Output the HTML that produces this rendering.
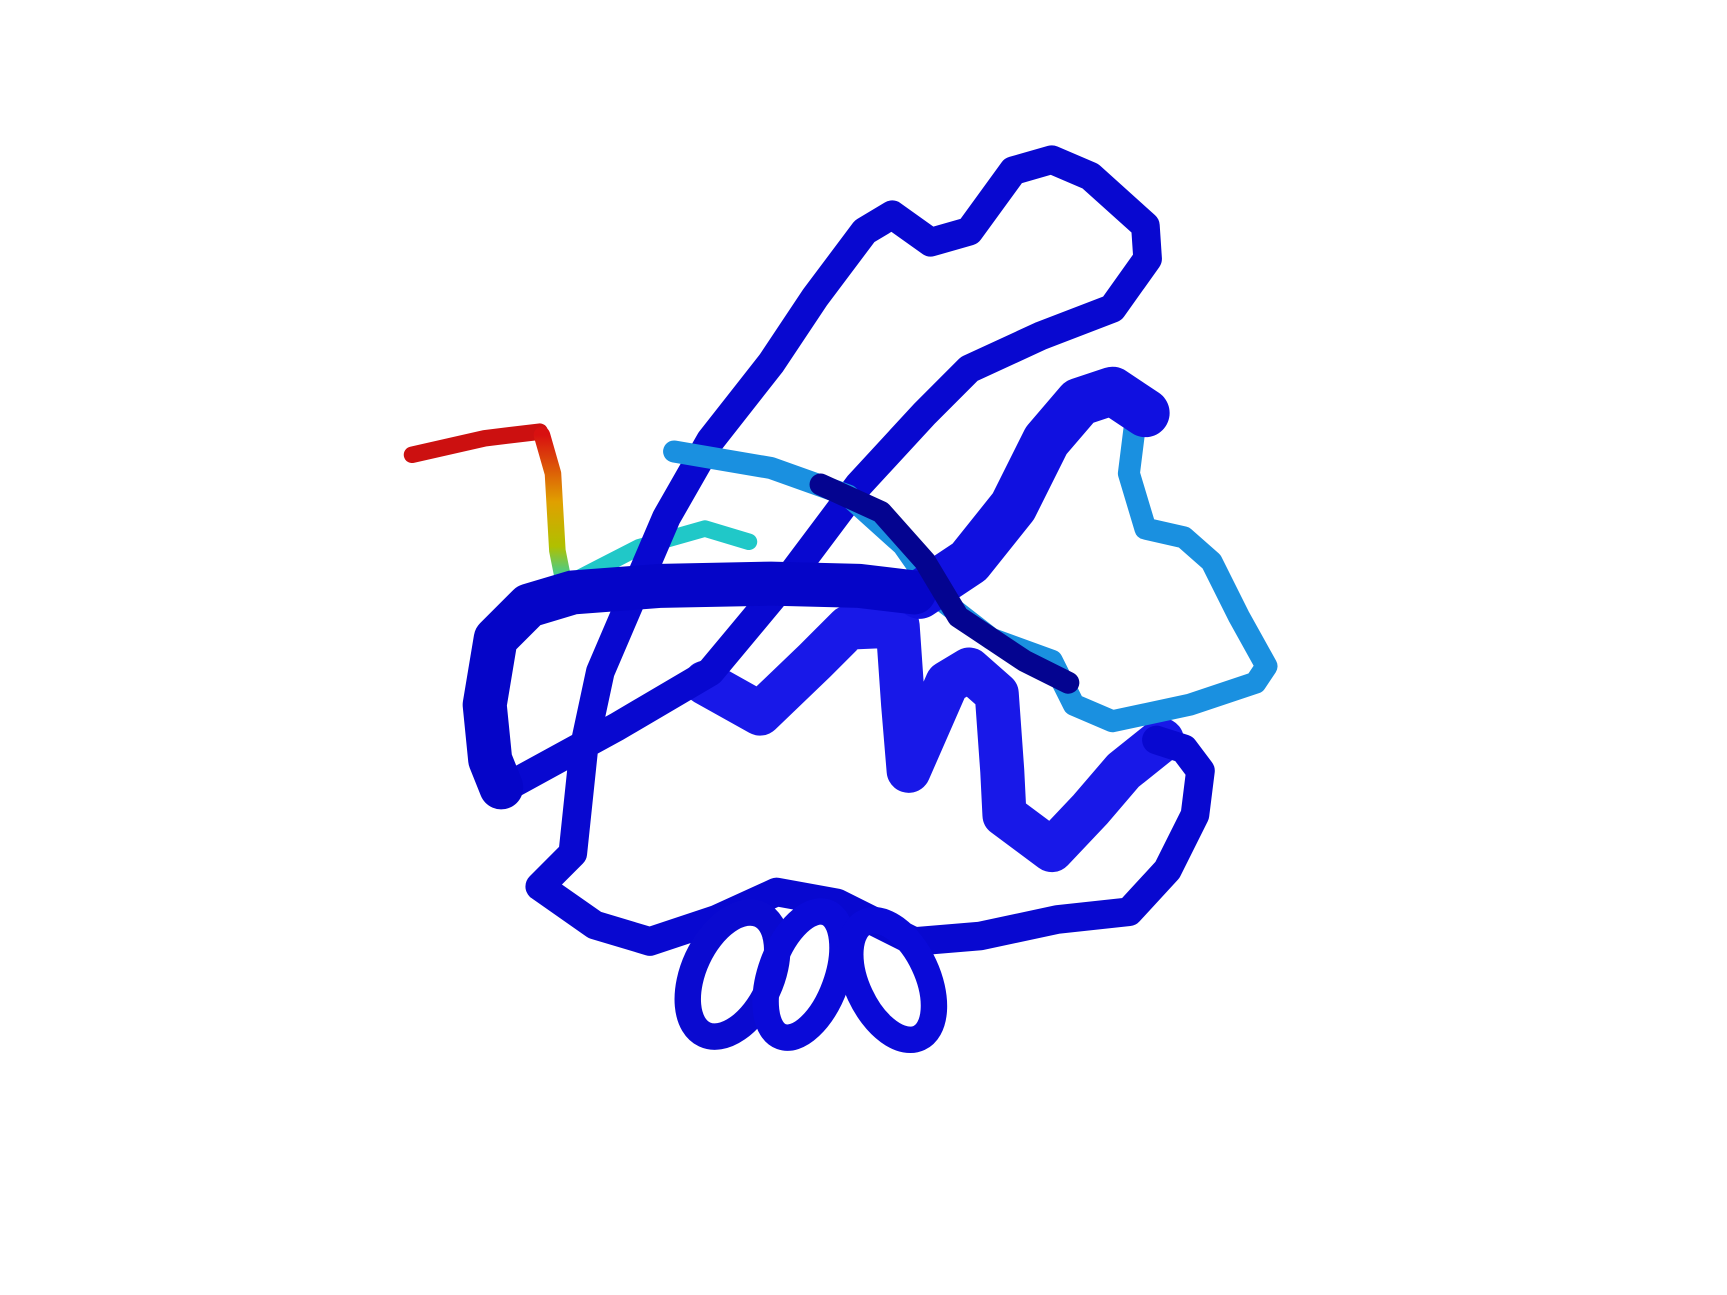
<!DOCTYPE html>
<html><head><meta charset="utf-8"><style>html,body{margin:0;padding:0;background:#fff;width:1727px;height:1295px;overflow:hidden}</style></head>
<body>
<svg width="1727" height="1295" viewBox="0 0 1568 1176" xmlns="http://www.w3.org/2000/svg">
<defs>
<linearGradient id="tail" x1="0" y1="0" x2="0" y2="1">
<stop offset="0" stop-color="#d81010"/><stop offset="0.45" stop-color="#e0a000"/><stop offset="0.75" stop-color="#b0c000"/><stop offset="1" stop-color="#20d0c0"/>
</linearGradient>
</defs>
<g fill="none" stroke-linecap="round" stroke-linejoin="round">
<path d="M374,413 L440,398 L490,392" stroke="#cc1010" stroke-width="15"/>
<path d="M492,395 L502,430 L506,500 L512,530" stroke="url(#tail)" stroke-width="15"/>
<path d="M512,532 L545,515 L580,497 L640,480 L680,492" stroke="#20c8c8" stroke-width="15"/>
<path d="M640,620 L690,648 L740,600 L770,570 L815,568 L820,640 L825,700 L860,620 L880,608 L905,630 L910,700 L912,740 L955,772 L990,735 L1020,700 L1055,672" stroke="#1818e8" stroke-width="40"/>
<path d="M465,712 L560,660 L645,610 L720,520 L780,440 L840,375 L880,335 L945,305 L1010,280 L1042,235 L1040,205 L990,160 L955,145 L920,155 L880,210 L845,220 L810,195 L785,210 L740,270 L700,330 L645,400 L605,470 L575,540 L545,610 L530,680 L520,775 L490,805 L540,840 L590,855 L650,835 L705,810 L760,820 L830,855 L890,850 L960,835 L1025,828 L1060,790 L1085,740 L1090,700 L1075,680 L1050,672" stroke="#0808d0" stroke-width="26"/>
<path d="M612,410 L700,425 L770,450 L820,495 L855,545 L900,580 L955,600 L975,640 L1010,655 L1080,640 L1140,620 L1150,605 L1125,560 L1100,510 L1075,488 L1040,480 L1025,430 L1030,390 L1040,375" stroke="#1a90e0" stroke-width="20"/>
<path d="M1040,375 L1010,355 L980,365 L950,400 L920,460 L880,510 L835,540" stroke="#1010e0" stroke-width="44"/>
<path d="M455,715 L445,690 L440,640 L450,580 L480,550 L520,538 L600,532 L700,530 L780,532 L830,538" stroke="#0505c8" stroke-width="40"/>
<path d="M745,440 L800,465 L840,510 L870,560 L930,600 L970,620" stroke="#040490" stroke-width="20"/>
<ellipse cx="665" cy="885" rx="35" ry="60" stroke="#0a0ad0" stroke-width="24" transform="rotate(25 665 885)"/>
<ellipse cx="730" cy="885" rx="30" ry="60" stroke="#0a0ad8" stroke-width="24" transform="rotate(20 730 885)"/>
<ellipse cx="810" cy="890" rx="32" ry="58" stroke="#0a0ad8" stroke-width="24" transform="rotate(-25 810 890)"/>
</g>
</svg>
</body></html>
